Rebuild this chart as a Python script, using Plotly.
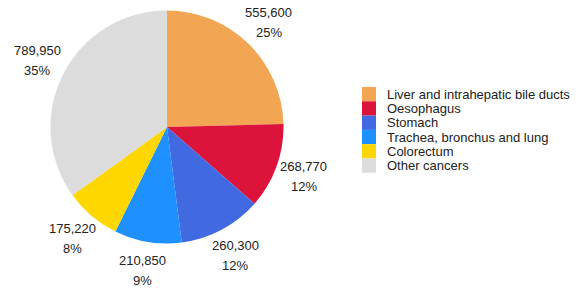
import math
import plotly.graph_objects as go

labels = ["Liver and intrahepatic bile ducts", "Oesophagus", "Stomach",
          "Trachea, bronchus and lung", "Colorectum", "Other cancers"]
values = [555600, 268770, 260300, 210850, 175220, 789950]
colors = ["#F2A654", "#DC143C", "#4169E1", "#1E90FF", "#FFD700", "#DCDCDC"]

W, H = 576, 293
CX, CY, R = 167, 127, 116.5   # pie centre / radius in pixels
LABEL_R = 145.5
FONT = "Liberation Sans, Arial, sans-serif"
TXT = "#222222"

fig = go.Figure(go.Pie(
    labels=labels, values=values, sort=False, direction="clockwise", rotation=0,
    marker=dict(colors=colors, line=dict(width=0)),
    textinfo="none",
    domain=dict(x=[(CX - R) / W, (CX + R) / W], y=[1 - (CY + R) / H, 1 - (CY - R) / H]),
    hoverinfo="label+value+percent", showlegend=False,
))

total = sum(values)
annotations = []
cum = 0
for v in values:
    mid = (cum + v / 2) / total * 2 * math.pi
    cum += v
    px = CX + LABEL_R * math.sin(mid)
    py = CY - LABEL_R * math.cos(mid)
    for txt, shift in ((f"{v:,}", 10), (f"{v / total:.0%}", -10)):
        annotations.append(dict(
            x=px / W, y=1 - py / H, xref="paper", yref="paper",
            text=txt, showarrow=False, xanchor="center", yanchor="middle",
            yshift=shift, font=dict(family=FONT, size=13, color=TXT)))

# custom legend (compact, like the reference)
shapes = []
LX0, LX1, LTOP, LSTEP = 362, 376, 87, 14.3
for i, (lab, col) in enumerate(zip(labels, colors)):
    y0 = LTOP + i * LSTEP
    y1 = y0 + LSTEP
    shapes.append(dict(type="rect", xref="paper", yref="paper",
                       x0=LX0 / W, x1=LX1 / W, y0=1 - y1 / H, y1=1 - y0 / H,
                       fillcolor=col, line=dict(width=0)))
    annotations.append(dict(x=385 / W, y=1 - (y0 + LSTEP / 2) / H,
                            xref="paper", yref="paper", text=lab, showarrow=False,
                            xanchor="left", yanchor="middle",
                            font=dict(family=FONT, size=13, color=TXT)))

fig.update_layout(
    width=W, height=H, margin=dict(l=0, r=0, t=0, b=0),
    paper_bgcolor="white", plot_bgcolor="white",
    font=dict(family=FONT, size=13, color=TXT),
    annotations=annotations, shapes=shapes, showlegend=False,
)
fig.write_html("out.html", config={"displayModeBar": False},
               post_script="document.body.style.margin='0';document.body.style.padding='0';")
